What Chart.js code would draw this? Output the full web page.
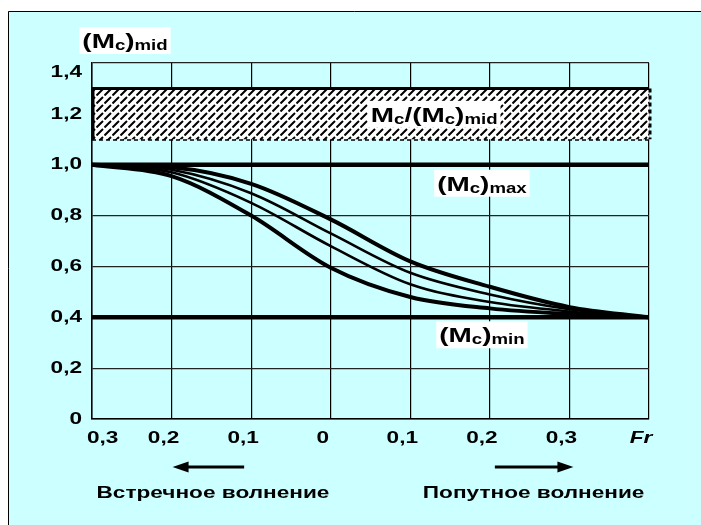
<!DOCTYPE html>
<html>
<head>
<meta charset="utf-8">
<script src="https://cdn.jsdelivr.net/npm/chart.js@4.4.0/dist/chart.umd.min.js"></script>
<style>
  html, body { margin: 0; padding: 0; background: #fff; }
  canvas { display: block; }
</style>
</head>
<body>
<canvas id="chart" width="701" height="525"></canvas>
<script>
// Froude number along the axis: head seas to the left of 0, following seas to the right
const froude = [-0.3, -0.2, -0.1, 0, 0.1, 0.2, 0.3, 0.4];
const curveA = [1.0, 0.99, 0.925, 0.785, 0.62, 0.52, 0.44, 0.40];
const curveB = [1.0, 0.98, 0.888, 0.73, 0.575, 0.49, 0.432, 0.40];
const curveC = [1.0, 0.97, 0.85, 0.68, 0.53, 0.46, 0.423, 0.40];
const curveD = [1.0, 0.955, 0.80, 0.595, 0.48, 0.435, 0.413, 0.40];

const maxLevel = 1.0;
const minLevel = 0.4;
const bandRange = [1.1, 1.3];

const xTickLabels = ['0,3', '0,2', '0,1', '0', '0,1', '0,2', '0,3', 'Fr'];
const yTickLabels = ['0', '0,2', '0,4', '0,6', '0,8', '1,0', '1,2', '1,4'];

const FONT = "'Liberation Sans', Arial, sans-serif";
const STRETCH = 1.33;
const CYAN = '#ccffff';

function pts(ys) {
  return froude.map((x, i) => ({ x: x, y: ys[i] }));
}
function flat(y) {
  return [{ x: froude[0], y: y }, { x: froude[froude.length - 1], y: y }];
}

// diagonal hatch tile for the 1.1..1.3 band
function makeHatch() {
  const c = document.createElement('canvas');
  c.width = 8; c.height = 8;
  const g = c.getContext('2d');
  g.fillStyle = '#fff';
  g.fillRect(0, 0, 8, 8);
  g.strokeStyle = '#000';
  g.lineWidth = 2;
  g.beginPath();
  g.moveTo(0.5, 7.5); g.lineTo(7, 1);
  g.stroke();
  return g.createPattern(c, 'repeat');
}

function wideText(ctx, str, x, y, size, align, baseline, style) {
  ctx.save();
  ctx.font = (style || 'bold') + ' ' + size + 'px ' + FONT;
  ctx.textAlign = align;
  ctx.textBaseline = baseline || 'alphabetic';
  ctx.fillStyle = '#000';
  ctx.translate(x, y);
  ctx.scale(STRETCH, 1);
  ctx.fillText(str, 0, 0);
  ctx.restore();
}

// text like (Mc)max: big letters with small subscript parts
function richLabel(ctx, parts, cx, baseY, boxed) {
  ctx.save();
  const widths = parts.map(p => {
    ctx.font = 'bold ' + (p[1] ? 14 : 21) + 'px ' + FONT;
    return ctx.measureText(p[0]).width * STRETCH;
  });
  const total = widths.reduce((a, b) => a + b, 0);
  let x = cx - total / 2;
  if (boxed) {
    ctx.fillStyle = '#fff';
    ctx.fillRect(x - 3, baseY - 21, total + 6, 27);
  }
  ctx.fillStyle = '#000';
  ctx.textAlign = 'left';
  ctx.textBaseline = 'alphabetic';
  parts.forEach((p, i) => {
    ctx.font = 'bold ' + (p[1] ? 14 : 21) + 'px ' + FONT;
    ctx.save();
    ctx.translate(x, baseY + (p[1] ? 2 : 0));
    ctx.scale(STRETCH, 1);
    ctx.fillText(p[0], 0, 0);
    ctx.restore();
    x += widths[i];
  });
  ctx.restore();
}

function arrow(ctx, x0, x1, y) {
  const dir = Math.sign(x1 - x0);
  ctx.save();
  ctx.strokeStyle = '#000';
  ctx.fillStyle = '#000';
  ctx.lineWidth = 3;
  ctx.beginPath();
  ctx.moveTo(x0, y);
  ctx.lineTo(x1 - dir * 12, y);
  ctx.stroke();
  ctx.beginPath();
  ctx.moveTo(x1, y);
  ctx.lineTo(x1 - dir * 16, y - 5.5);
  ctx.lineTo(x1 - dir * 16, y + 5.5);
  ctx.closePath();
  ctx.fill();
  ctx.restore();
}

const backdrop = {
  id: 'backdrop',
  beforeDraw(chart) {
    const ctx = chart.ctx;
    ctx.save();
    ctx.fillStyle = '#fff';
    ctx.fillRect(0, 0, chart.width, chart.height);
    ctx.fillStyle = CYAN;
    ctx.fillRect(8, 11, chart.width - 8, chart.height - 11);
    ctx.strokeStyle = '#000';
    ctx.lineWidth = 1;
    ctx.beginPath();
    ctx.moveTo(8.5, chart.height); ctx.lineTo(8.5, 11.5); ctx.lineTo(chart.width, 11.5);
    ctx.stroke();
    ctx.restore();
  }
};

const annotations = {
  id: 'annotations',
  afterDraw(chart) {
    const ctx = chart.ctx;
    const xs = chart.scales.x, ys = chart.scales.y;
    const area = chart.chartArea;

    // band side edges: solid left, dashed right
    const yTop = ys.getPixelForValue(bandRange[1]);
    const yBot = ys.getPixelForValue(bandRange[0]);
    ctx.save();
    ctx.strokeStyle = '#000';
    ctx.lineWidth = 3;
    ctx.beginPath();
    ctx.moveTo(area.left + 1, yTop); ctx.lineTo(area.left + 1, yBot);
    ctx.stroke();
    ctx.setLineDash([4, 3]);
    ctx.beginPath();
    ctx.moveTo(area.right + 1, yTop); ctx.lineTo(area.right + 1, yBot);
    ctx.stroke();
    ctx.restore();

    // y tick labels
    ys.ticks.forEach((t, i) => {
      const y = Math.max(ys.getPixelForValue(t.value), area.top + 9);
      wideText(ctx, yTickLabels[i], area.left - 10, y, 17, 'right', 'middle');
    });

    // x tick labels
    xs.ticks.forEach((t, i) => {
      const px = xs.getPixelForValue(t.value);
      const last = i === xTickLabels.length - 1;
      const x = i === 0 ? px - 5 : px - 8;
      wideText(ctx, xTickLabels[i], x, 438, 17, i === 0 ? 'left' : 'center', 'middle',
        last ? 'italic bold' : 'bold');
    });

    // axis title and level labels
    richLabel(ctx, [['(M'], ['c', 1], [')'], ['mid', 1]], area.left + 33, area.top - 15, true);
    richLabel(ctx, [['M'], ['c', 1], ['/(M'], ['c', 1], [')'], ['mid', 1]],
      xs.getPixelForValue(0.13), ys.getPixelForValue(1.2) + 8, true);
    richLabel(ctx, [['(M'], ['c', 1], [')'], ['max', 1]],
      xs.getPixelForValue(0.19), ys.getPixelForValue(maxLevel) + 26, true);
    richLabel(ctx, [['(M'], ['c', 1], [')'], ['min', 1]],
      xs.getPixelForValue(0.19), ys.getPixelForValue(minLevel) + 25, true);

    // wave direction arrows and captions
    arrow(ctx, xs.getPixelForValue(-0.1) - 7, xs.getPixelForValue(-0.2) + 1, 467);
    arrow(ctx, xs.getPixelForValue(0.2) + 5, xs.getPixelForValue(0.3) + 4, 467);
    wideText(ctx, 'Встречное волнение', xs.getPixelForValue(-0.148), 498, 17, 'center');
    wideText(ctx, 'Попутное волнение', xs.getPixelForValue(0.255), 498, 17, 'center');
  }
};

const line = (data, w) => ({
  data: pts(data),
  borderColor: '#000',
  borderWidth: w,
  pointRadius: 0,
  cubicInterpolationMode: 'monotone',
  fill: false
});

new Chart(document.getElementById('chart'), {
  type: 'line',
  data: {
    datasets: [
      {
        data: flat(bandRange[1]), borderColor: '#000', borderWidth: 3,
        pointRadius: 0, fill: '+1', backgroundColor: makeHatch()
      },
      {
        data: flat(bandRange[0]), borderColor: '#000', borderWidth: 3,
        borderDash: [4, 3], pointRadius: 0, fill: false
      },
      { data: flat(maxLevel), borderColor: '#000', borderWidth: 4.5, pointRadius: 0, fill: false },
      { data: flat(minLevel), borderColor: '#000', borderWidth: 4.5, pointRadius: 0, fill: false },
      line(curveA, 4),
      line(curveB, 2.6),
      line(curveC, 2.6),
      line(curveD, 4)
    ]
  },
  options: {
    responsive: false,
    animation: false,
    devicePixelRatio: 1,
    layout: { padding: { top: 63, right: 52, left: 0, bottom: 0 } },
    plugins: { legend: { display: false }, tooltip: { enabled: false } },
    scales: {
      x: {
        type: 'linear',
        min: -0.3, max: 0.4,
        z: 1,
        ticks: { stepSize: 0.1, display: false },
        grid: { color: '#000', lineWidth: 1.2, drawTicks: false },
        border: { color: '#000', width: 1.5 },
        afterFit(scale) { scale.height = 106; }
      },
      y: {
        min: 0, max: 1.4,
        z: 1,
        ticks: { stepSize: 0.2, display: false },
        grid: { color: '#222', lineWidth: 1.2, drawTicks: false },
        border: { color: '#000', width: 1.5 },
        afterFit(scale) { scale.height; scale.width = 92; }
      }
    }
  },
  plugins: [backdrop, annotations]
});
</script>
</body>
</html>
